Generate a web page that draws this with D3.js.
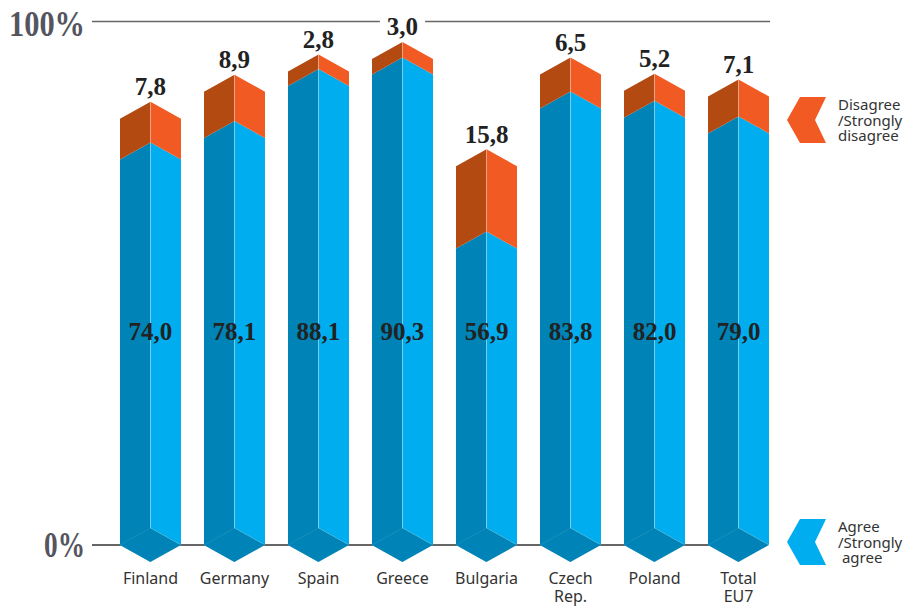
<!DOCTYPE html>
<html>
<head>
<meta charset="utf-8">
<script src="https://cdn.jsdelivr.net/npm/d3@7"></script>
<style>
  body { margin: 0; background: #fff; }
  svg { display: block; }
</style>
</head>
<body>
<div id="chart-area"></div>
<script>
// data
var categories = ["Finland", "Germany", "Spain", "Greece", "Bulgaria", "Czech\nRep.", "Poland", "Total\nEU7"]
var agree = [74.0, 78.1, 88.1, 90.3, 56.9, 83.8, 82.0, 79.0]
var disagree = [7.8, 8.9, 2.8, 3.0, 15.8, 6.5, 5.2, 7.1]
var yTicks = [0, 100]
var legendItems = [
    {lines: ["Disagree", "/Strongly", "disagree"], cy: 120, light: "#f15a22"},
    {lines: ["Agree", "/Strongly", " agree"], cy: 542, light: "#00aeef"}
]

var cw = 918, ch = 607
var dy = 17  // depth of the chevron tops

var col = {
    blueDark: "#0083b6", blueLight: "#00aeef",
    orangeDark: "#b34a12", orangeLight: "#f15a22"
}

var svg = d3.select("#chart-area").append("svg")
    .attr("width", cw)
    .attr("height", ch)

var x = d3.scaleBand()
    .domain(categories)
    .range([120, 769])
    .paddingInner(0.274)
    .paddingOuter(0)

var y = d3.scaleLinear()
    .domain([0, 100])
    .range([545, 24])

var fmt = v => d3.format(".1f")(v).replace(".", ",")

var data = categories.map((c, i) => ({cat: c, agree: agree[i], disagree: disagree[i]}))

// axis rules
svg.append("line")
    .attr("x1", 92).attr("x2", 770)
    .attr("y1", 21.5).attr("y2", 21.5)
    .attr("stroke", "#666").attr("stroke-width", 1.5)

svg.append("line")
    .attr("x1", 92).attr("x2", x(categories[categories.length - 1]) + x.bandwidth() / 2)
    .attr("y1", y(0)).attr("y2", y(0))
    .attr("stroke", "#333").attr("stroke-width", 1.5)

svg.selectAll(".pct")
    .data(yTicks)
    .enter().append("text")
    .attr("class", "pct")
    .attr("x", 85)
    .attr("y", d => d == 0 ? y(0) + 12 : 36)
    .attr("text-anchor", "end")
    .attr("font-family", "Liberation Serif")
    .attr("font-weight", "bold")
    .attr("font-size", "36px")
    .attr("fill", "#55555f")
    .attr("textLength", d => d == 0 ? 41 : 76)
    .attr("lengthAdjust", "spacingAndGlyphs")
    .text(d => d + "%")

var bars = svg.selectAll(".bar")
    .data(data)
    .enter().append("g")
    .attr("class", "bar")

var line = d3.line()

bars.each(function(d) {
    var g = d3.select(this)
    var L = x(d.cat), bw = x.bandwidth(), C = L + bw / 2, R = L + bw
    var y0 = y(0), y1 = y(d.agree), y2 = y(d.agree + d.disagree)

    // agree segment
    g.append("path").attr("fill", col.blueDark)
        .attr("d", line([[L, y1], [C, y1 - dy], [C, y0 + dy], [L, y0]]) + "Z")
    g.append("path").attr("fill", col.blueLight)
        .attr("d", line([[C, y1 - dy], [R, y1], [R, y0], [C, y0 - dy]]) + "Z")
    // disagree segment
    g.append("path").attr("fill", col.orangeDark)
        .attr("d", line([[L, y2], [C, y2 - dy], [C, y1 - dy], [L, y1]]) + "Z")
    g.append("path").attr("fill", col.orangeLight)
        .attr("d", line([[C, y2 - dy], [R, y2], [R, y1], [C, y1 - dy]]) + "Z")
    // centre edge
    g.append("line")
        .attr("x1", C).attr("x2", C)
        .attr("y1", y2 - dy).attr("y2", y0 - dy)
        .attr("stroke", "#fff").attr("stroke-opacity", 0.3).attr("stroke-width", 1)
    // base diamond
    g.append("path").attr("fill", col.blueDark)
        .attr("stroke", "#fff").attr("stroke-opacity", 0.12).attr("stroke-width", 0.8)
        .attr("d", line([[L, y0], [C, y0 - dy], [R, y0], [C, y0 + dy]]) + "Z")

    // disagree value with white backing (cuts the top rule)
    var t = g.append("text")
        .attr("x", C)
        .attr("y", y2 - dy - 6.5)
        .attr("text-anchor", "middle")
        .attr("font-family", "Liberation Serif")
        .attr("font-weight", "bold")
        .attr("font-size", "25px")
        .attr("fill", "#222")
        .text(fmt(d.disagree))
    var bb = t.node().getBBox()
    g.insert("rect", "text")
        .attr("x", bb.x - 7).attr("y", bb.y)
        .attr("width", bb.width + 14).attr("height", bb.height)
        .attr("fill", "#fff")

    // agree value
    g.append("text")
        .attr("x", C)
        .attr("y", 340)
        .attr("text-anchor", "middle")
        .attr("font-family", "Liberation Serif")
        .attr("font-weight", "bold")
        .attr("font-size", "25px")
        .attr("fill", "#222")
        .text(fmt(d.agree))

    // category label
    var lab = g.append("text")
        .attr("x", C)
        .attr("y", 584)
        .attr("text-anchor", "middle")
        .attr("font-family", "Noto Sans")
        .attr("font-size", "16px")
        .attr("fill", "#333")
    d.cat.split("\n").forEach((s, i) => {
        lab.append("tspan").attr("x", C).attr("dy", i ? 18 : 0).text(s)
    })
})

// legend
var leg = svg.selectAll(".legend")
    .data(legendItems)
    .enter().append("g")
    .attr("class", "legend")
    .attr("transform", d => "translate(787," + d.cy + ")")

leg.append("path")
    .attr("fill", d => d.light)
    .attr("d", line([[0, 0], [13, -23], [39, -23], [28, 0], [39, 23], [13, 23]]) + "Z")

leg.append("text")
    .attr("font-family", "Noto Sans")
    .attr("font-size", "15px")
    .attr("fill", "#333")
    .attr("xml:space", "preserve")
    .style("white-space", "pre")
    .each(function(d) {
        var t = d3.select(this)
        d.lines.forEach((s, i) => {
            t.append("tspan").attr("x", 51).attr("y", -10 + i * 15.5).text(s)
        })
    })
</script>
</body>
</html>
